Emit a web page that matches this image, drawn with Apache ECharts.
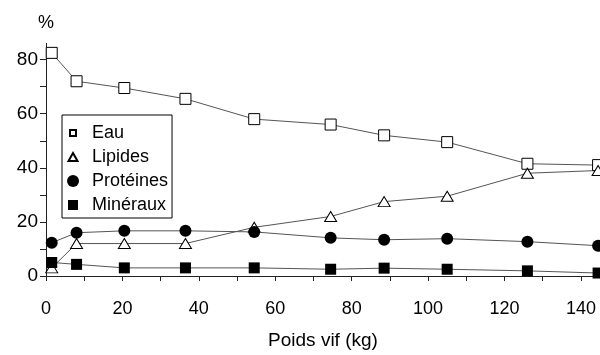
<!DOCTYPE html>
<html>
<head>
<meta charset="utf-8">
<script src="https://cdn.jsdelivr.net/npm/echarts@6/dist/echarts.min.js"></script>
<style>html,body{margin:0;padding:0;background:#fff;}#c{width:600px;height:355px;}</style>
</head>
<body>
<div id="c"></div>
<script>
var poids = [1.5, 8, 20.5, 36.5, 54.5, 74.5, 88.5, 105, 126, 144.5];
var eau = [82.5, 72, 69.5, 65.5, 58, 56, 52, 49.5, 41.5, 41];
var lipides = [3, 12, 12, 12, 18, 22, 27.5, 29.5, 38, 39];
var proteines = [12.3, 16, 16.7, 16.7, 16.3, 14.1, 13.4, 13.8, 12.7, 11.2];
var mineraux = [5, 4.3, 3, 3, 3, 2.5, 2.9, 2.5, 1.9, 1.1];
var xTickLabels = [0, 20, 40, 60, 80, 100, 120, 140];
var yTickLabels = [0, 20, 40, 60, 80];
var names = ['Eau', 'Lipides', 'Protéines', 'Minéraux'];

function pairs(vals) { return poids.map(function (x, i) { return [x, vals[i]]; }); }
var FONT = '"Liberation Sans", Arial, sans-serif';
var lineStyle = { color: '#555', width: 1 };

var chart = echarts.init(document.getElementById('c'), null, { renderer: 'canvas' });
chart.setOption({
  animation: false,
  backgroundColor: '#fff',
  grid: { left: 46, right: 0, top: 43.4, bottom: 74, containLabel: false },
  legend: {
    orient: 'vertical', left: 62, top: 115,
    padding: [9, 4, 4, 4],
    itemWidth: 12, itemHeight: 12, itemGap: 6,
    borderColor: '#000', borderWidth: 1, backgroundColor: '#fff',
    textStyle: { fontFamily: FONT, fontSize: 18, color: '#000', lineHeight: 16, padding: [0, 0, 0, 8] },
    data: [
      { name: names[0], icon: 'path://M0,0M12,12M3,3h6v6h-6z' },
      { name: names[1], icon: 'path://M0,0M12,12M6,2L10.5,10L1.5,10Z' },
      { name: names[2], icon: 'circle' },
      { name: names[3], icon: 'path://M0,0M12,12M1,1h10v10h-10z' }
    ]
  },
  xAxis: {
    type: 'value', min: 0, max: 145,
    name: 'Poids vif (kg)', nameLocation: 'middle', nameGap: 55,
    nameTextStyle: { fontFamily: FONT, fontSize: 19, color: '#000' },
    axisLine: { show: true, onZero: false, lineStyle: { color: '#222', width: 1 } },
    axisTick: { show: true, length: 5, lineStyle: { color: '#222' }, customValues: [0,10,20,30,40,50,60,70,80,90,100,110,120,130,140] },
    axisLabel: { fontFamily: FONT, fontSize: 18, color: '#000', margin: 24, customValues: xTickLabels },
    splitLine: { show: false }
  },
  yAxis: {
    type: 'value', min: 0, max: 86,
    name: '%', nameLocation: 'end', nameGap: 11,
    nameTextStyle: { fontFamily: FONT, fontSize: 18, color: '#000', align: 'center' },
    axisLine: { show: true, lineStyle: { color: '#222', width: 1 } },
    axisTick: { show: true, length: 6, lineStyle: { color: '#222' }, customValues: [0,10,20,30,40,50,60,70,80] },
    axisLabel: { fontFamily: FONT, fontSize: 19, color: '#000', margin: 8, customValues: yTickLabels },
    splitLine: { show: false }
  },
  series: [
    { name: names[0], type: 'line', data: pairs(eau), symbol: 'rect', symbolSize: [11, 11],
      itemStyle: { color: '#fff', borderColor: '#000', borderWidth: 1 }, lineStyle: lineStyle, z: 3 },
    { name: names[1], type: 'line', data: pairs(lipides), symbol: 'triangle', symbolSize: [12, 10],
      itemStyle: { color: '#fff', borderColor: '#000', borderWidth: 1 }, lineStyle: lineStyle, z: 3 },
    { name: names[2], type: 'line', data: pairs(proteines), symbol: 'circle', symbolSize: 12,
      itemStyle: { color: '#000', borderColor: '#000', borderWidth: 0 }, lineStyle: lineStyle, z: 4 },
    { name: names[3], type: 'line', data: pairs(mineraux), symbol: 'rect', symbolSize: 11,
      itemStyle: { color: '#000', borderColor: '#000', borderWidth: 0 }, lineStyle: lineStyle, z: 4 }
  ]
});
</script>
</body>
</html>
